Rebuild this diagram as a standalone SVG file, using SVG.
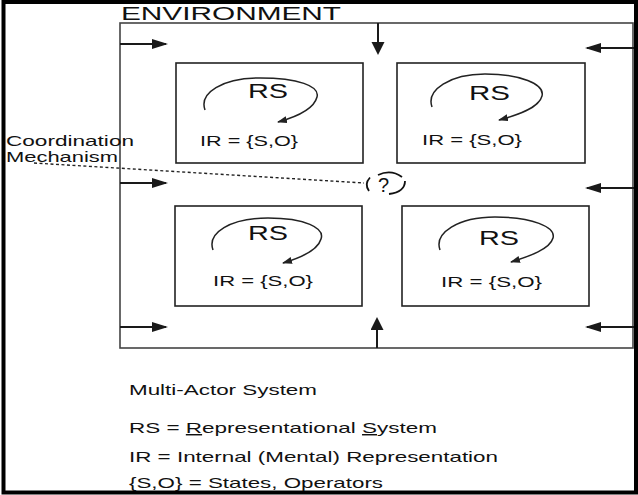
<svg xmlns="http://www.w3.org/2000/svg" width="638" height="495" viewBox="0 0 638 495">
  <style>
    .txt { font-family: "Liberation Sans", Arial, sans-serif; fill: #111; }
    .actor { fill: none; stroke: #222; stroke-width: 1.6; }
    .loop { fill: none; stroke: #222; stroke-width: 1.5; marker-end: url(#loopHead); }
    .flow { stroke: #1a1a1a; stroke-width: 2; marker-end: url(#flowHead); }
    .vflow { stroke: #1a1a1a; stroke-width: 2; marker-end: url(#flowHeadV); }
    .mech { fill: none; stroke: #111; stroke-width: 1.8; }
  </style>
  <defs>
    <marker id="flowHead" markerUnits="userSpaceOnUse" markerWidth="17" markerHeight="11" refX="14" refY="5" orient="auto">
      <path d="M0,0 L16,5 L0,10 z" fill="#1a1a1a"/>
    </marker>
    <marker id="flowHeadV" markerUnits="userSpaceOnUse" markerWidth="14" markerHeight="14" refX="11" refY="6.5" orient="auto">
      <path d="M0,0 L13,6.5 L0,13 z" fill="#1a1a1a"/>
    </marker>
    <marker id="loopHead" markerUnits="userSpaceOnUse" markerWidth="11" markerHeight="8" refX="9" refY="3.5" orient="auto">
      <path d="M0,0 L10,3.5 L0,7 z" fill="#222"/>
    </marker>
  </defs>

  <rect x="0" y="0" width="638" height="495" fill="#fff"/>

  <!-- outer page frame -->
  <rect x="3.5" y="2" width="632.5" height="490.5" fill="none" stroke="#000" stroke-width="4"/>

  <!-- environment -->
  <g id="environment">
    <rect x="120" y="23" width="513" height="325" fill="none" stroke="#444" stroke-width="1.6"/>
    <text class="txt" x="121" y="20" font-size="18" textLength="220" lengthAdjust="spacingAndGlyphs">ENVIRONMENT</text>
  </g>

  <!-- actors -->
  <g id="actor-top-left">
    <rect class="actor" x="176" y="63" width="187" height="100"/>
    <path class="loop" d="M205,110 C199,93 222,78 260,78 C298,78 320,86 317,97 C314,109 296,117 278,122"/>
    <text class="txt" x="248" y="98" font-size="20" textLength="40" lengthAdjust="spacingAndGlyphs">RS</text>
    <text class="txt" x="200" y="146" font-size="14" textLength="98" lengthAdjust="spacingAndGlyphs">IR = {S,O}</text>
  </g>
  <g id="actor-top-right">
    <rect class="actor" x="397" y="63" width="188" height="100"/>
    <path class="loop" d="M432,107 C426,90 450,74 485,74 C520,74 545,84 542,96 C539,108 518,115 499,120"/>
    <text class="txt" x="469" y="100" font-size="20" textLength="41" lengthAdjust="spacingAndGlyphs">RS</text>
    <text class="txt" x="422" y="145" font-size="14" textLength="100" lengthAdjust="spacingAndGlyphs">IR = {S,O}</text>
  </g>
  <g id="actor-bottom-left">
    <rect class="actor" x="175" y="206" width="187" height="100"/>
    <path class="loop" d="M213,250 C207,233 230,218 268,218 C305,218 325,228 321,239 C318,250 300,258 283,263"/>
    <text class="txt" x="248" y="240" font-size="20" textLength="40" lengthAdjust="spacingAndGlyphs">RS</text>
    <text class="txt" x="213" y="286" font-size="14" textLength="100" lengthAdjust="spacingAndGlyphs">IR = {S,O}</text>
  </g>
  <g id="actor-bottom-right">
    <rect class="actor" x="402" y="206" width="187" height="100"/>
    <path class="loop" d="M440,250 C434,233 458,217 495,217 C532,217 556,227 553,238 C550,249 530,256 511,262"/>
    <text class="txt" x="479" y="245" font-size="20" textLength="40" lengthAdjust="spacingAndGlyphs">RS</text>
    <text class="txt" x="441" y="287" font-size="14" textLength="101" lengthAdjust="spacingAndGlyphs">IR = {S,O}</text>
  </g>

  <!-- coordination mechanism -->
  <g id="coordination">
    <text class="txt" x="6" y="146" font-size="15" textLength="128" lengthAdjust="spacingAndGlyphs">Coordination</text>
    <text class="txt" x="6" y="162" font-size="15" textLength="112" lengthAdjust="spacingAndGlyphs">Mechanism</text>
    <path class="mech" d="M370,177.5 Q364,184 369,191"/>
    <text class="txt" x="378" y="192" font-size="20">?</text>
    <path class="mech" d="M378,175 Q391,169 402,177"/>
    <path class="mech" d="M405,181 Q405,192 389,194"/>
  </g>

  <!-- connectors -->
  <g id="connectors">
    <line x1="34" y1="163" x2="364" y2="183" stroke="#222" stroke-width="1.4" stroke-dasharray="3,2.5"/>
    <line class="flow" x1="120" y1="44" x2="166" y2="44"/>
    <line class="flow" x1="120" y1="183" x2="166" y2="183"/>
    <line class="flow" x1="120" y1="327" x2="166" y2="327"/>
    <line class="flow" x1="634" y1="48" x2="587" y2="48"/>
    <line class="flow" x1="634" y1="188" x2="587" y2="188"/>
    <line class="flow" x1="634" y1="327" x2="587" y2="327"/>
    <line class="vflow" x1="378" y1="23" x2="378" y2="53"/>
    <line class="vflow" x1="377" y1="348" x2="377" y2="319"/>
  </g>

  <!-- legend -->
  <g id="legend">
    <text class="txt" x="129" y="395" font-size="14.5" textLength="188" lengthAdjust="spacingAndGlyphs">Multi-Actor System</text>
    <text class="txt" x="129" y="433" font-size="14.5" textLength="308" lengthAdjust="spacingAndGlyphs">RS = <tspan text-decoration="underline">R</tspan>epresentational <tspan text-decoration="underline">S</tspan>ystem</text>
    <text class="txt" x="129" y="462" font-size="14.5" textLength="369" lengthAdjust="spacingAndGlyphs">IR = Internal (Mental) Representation</text>
    <text class="txt" x="129" y="488" font-size="14.5" textLength="254" lengthAdjust="spacingAndGlyphs">{S,O} = States, Operators</text>
  </g>
</svg>
